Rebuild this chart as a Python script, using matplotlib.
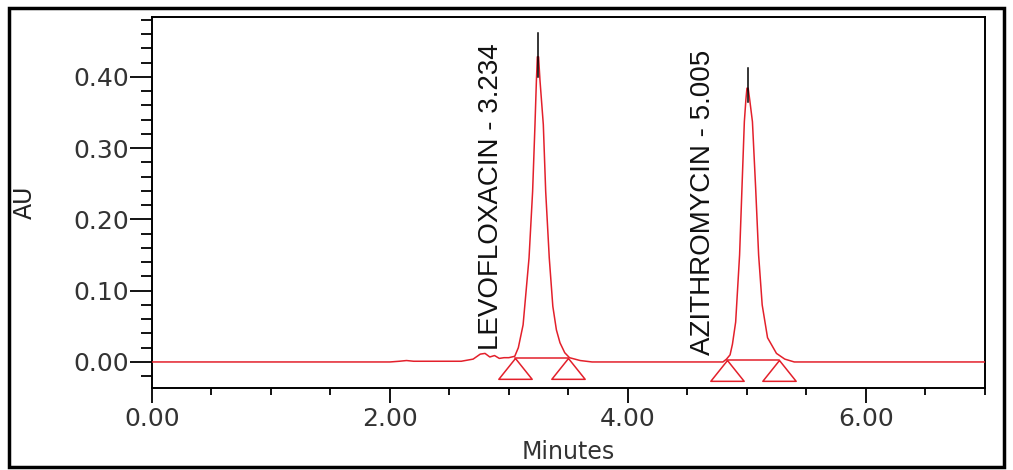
import matplotlib
matplotlib.use("Agg")
import matplotlib.pyplot as plt
from matplotlib.patches import Rectangle
from matplotlib.ticker import MultipleLocator, FixedLocator

# chromatogram trace (minutes, AU)
time_min = [0.00, 1.00, 2.00, 2.08, 2.14, 2.20, 2.60, 2.70, 2.76, 2.80, 2.84, 2.88, 2.92, 2.96,
            3.00, 3.05, 3.08, 3.12, 3.17, 3.20, 3.22, 3.232, 3.240, 3.250, 3.262, 3.29, 3.31, 3.34,
            3.37, 3.40, 3.43, 3.47, 3.51, 3.60, 3.70, 4.00, 4.50, 4.80, 4.83, 4.86, 4.88,
            4.907, 4.94, 4.96, 4.98, 4.993, 5.002, 5.012, 5.025, 5.048, 5.075, 5.10, 5.13, 5.175,
            5.25, 5.32, 5.40, 6.00, 7.00]
au = [0.000, 0.000, 0.000, 0.001, 0.002, 0.001, 0.001, 0.004, 0.011, 0.012, 0.007, 0.009, 0.005, 0.006,
      0.006, 0.008, 0.020, 0.052, 0.146, 0.239, 0.333, 0.395, 0.428, 0.428, 0.395, 0.333, 0.239, 0.146,
      0.078, 0.045, 0.027, 0.013, 0.006, 0.002, 0.000, 0.000, 0.000, 0.000, 0.004, 0.010, 0.025,
      0.056, 0.150, 0.244, 0.337, 0.368, 0.384, 0.384, 0.368, 0.337, 0.244, 0.150, 0.080, 0.034,
      0.012, 0.004, 0.000, 0.000, 0.000]

peak_names = ["LEVOFLOXACIN", "AZITHROMYCIN"]
peak_rt = [3.234, 5.005]
apex_x = [3.245, 5.007]
apex_lo = [0.400, 0.365]
apex_hi = [0.462, 0.413]
label_x = [2.85, 4.63]
label_y = [0.017, 0.010]
# integration start / end events
peak_start = [3.05, 4.83]
peak_end = [3.50, 5.27]
event_au = [0.006, 0.003]

yticks = [0.0, 0.1, 0.2, 0.3, 0.4]
xticks = [0.0, 2.0, 4.0, 6.0]

red = "#e3202b"

fig = plt.figure(figsize=(10.13, 4.70), dpi=100)
ax = fig.add_axes([0.150, 0.1745, 0.822, 0.7895])

ax.plot(time_min, au, color=red, lw=1.1, zorder=3)

for i in range(len(peak_names)):
    ax.plot([apex_x[i], apex_x[i]], [apex_lo[i], apex_hi[i]], color="black", lw=1.1, zorder=4)
    ax.plot([peak_start[i], peak_end[i]], [event_au[i], event_au[i]], color=red, lw=1.1, zorder=3)
    ax.text(label_x[i], label_y[i], "%s - %.3f" % (peak_names[i], peak_rt[i]),
            rotation=90, ha="center", va="bottom", fontsize=20,
            family=["Liberation Sans", "DejaVu Sans"], color="#111111")

tri = [(0, 0), (-1, -1.25), (1, -1.25), (0, 0)]
ax.plot(peak_start + peak_end, event_au + event_au, ls="none", marker=tri,
        markersize=30, markerfacecolor="none", markeredgecolor=red, markeredgewidth=1.1,
        zorder=5, clip_on=False)

ax.set_xlim(0, 7.0)
ax.set_ylim(-0.0365, 0.484)

ax.xaxis.set_major_locator(FixedLocator(xticks))
ax.xaxis.set_minor_locator(MultipleLocator(0.5))
ax.yaxis.set_major_locator(FixedLocator(yticks))
ax.yaxis.set_minor_locator(MultipleLocator(0.02))
ax.set_xticklabels(["%.2f" % v for v in xticks])
ax.set_yticklabels(["%.2f" % v for v in yticks])

ax.tick_params(axis="y", which="major", length=16, width=1.3, pad=0.5,
               labelsize=18, labelcolor="#333333")
ax.tick_params(axis="y", which="minor", length=8, width=1.3)
ax.tick_params(axis="x", which="major", length=11, width=1.3, pad=3,
               labelsize=18, labelcolor="#333333")
ax.tick_params(axis="x", which="minor", length=5, width=1.3)

for s in ax.spines.values():
    s.set_linewidth(1.4)

ax.set_xlabel("Minutes", fontsize=17, color="#333333", labelpad=6)
ax.set_ylabel("AU", fontsize=17, color="#222222", labelpad=26)

fig.patches.append(Rectangle((9 / 1013, 3 / 470), 995 / 1013, 459 / 470,
                             transform=fig.transFigure, fill=False,
                             edgecolor="black", lw=2.5))

fig.savefig("out.png", dpi=100)
